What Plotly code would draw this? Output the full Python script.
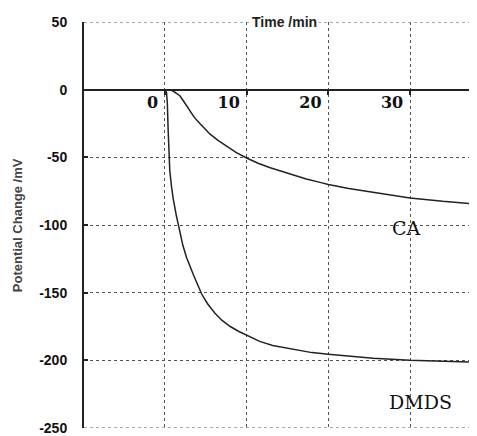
import plotly.graph_objects as go

# Time (min) and potential change (mV)
ca_t = [-10, 0, 0.6, 1.0, 1.4, 1.83, 2.4, 3.06, 3.6, 4.28, 5.5, 6.5, 7.5, 8.7, 10, 11.4, 12.9, 14.3, 15.7, 17.3, 19, 20, 22.5, 25, 27.5, 30, 34, 38.2]
ca_v = [0, 0, 0, -1, -2.5, -4.5, -9.5, -15.6, -20.5, -25, -32.7, -37.5, -41.6, -46.3, -50.5, -54.4, -57.7, -60.5, -63, -66, -68.5, -70, -73, -75.5, -78, -80, -82.5, -84.5]

dmds_t = [-10, 0, 0.2, 0.3, 0.4, 0.5, 0.6, 0.8, 1.0, 1.4, 1.8, 2.2, 2.65, 3.0, 3.5, 4.0, 4.5, 5.2, 6.1, 7.0, 8, 9, 10, 11.6, 13.2, 15, 16.5, 18, 20, 22.5, 25.5, 30, 34, 38.2]
dmds_v = [0, 0, -2, -10, -30, -48, -60, -71, -80, -93, -104, -115, -124, -130, -137, -144, -151, -158, -165, -170.5, -175, -178.5, -181.5, -186, -189, -191.2, -193, -194.3, -195.5, -197, -198.5, -200, -200.8, -201.5]

x_ticks = [0, 10, 20, 30]
y_ticks = [50, 0, -50, -100, -150, -200, -250]
y_tick_text = ["50", "0", "-50", "-100", "-150", "-200", "-250"]

x_range = [-9.9, 38.2]
y_range = [-250, 50]

fig = go.Figure()
line_style = dict(color="#222222", width=1.5)
fig.add_trace(go.Scatter(x=ca_t, y=ca_v, mode="lines", line=line_style, name="CA"))
fig.add_trace(go.Scatter(x=dmds_t, y=dmds_v, mode="lines", line=line_style, name="DMDS"))

# frame lines at top and bottom of the value range (dotted like the grid)
for yv in (y_range[1], y_range[0]):
    fig.add_shape(type="line", xref="paper", yref="y", x0=0, x1=1, y0=yv, y1=yv,
                  line=dict(color="#555", width=1, dash="dot"), layer="below")

fig.add_annotation(x=29.6, y=-102, text="CA", showarrow=False,
                   font=dict(family="DejaVu Serif", size=19, color="#111"))
fig.add_annotation(x=31.3, y=-231, text="DMDS", showarrow=False,
                   font=dict(family="DejaVu Serif", size=19, color="#111"))

fig.add_annotation(xref="paper", yref="paper", x=-0.17, y=0.5, xanchor="center",
                   yanchor="middle", text="Potential Change /mV",
                   textangle=-90, showarrow=False,
                   font=dict(family="Liberation Sans", size=13, color="#444", weight="bold"))
fig.add_annotation(xref="paper", yref="paper", x=0.509, y=1.0, text="Time /min",
                   showarrow=False, bgcolor="white", yanchor="middle",
                   font=dict(family="Liberation Sans", size=14, color="#222", weight="bold"))

pos0 = (0 - y_range[0]) / (y_range[1] - y_range[0])

fig.update_layout(
    width=469, height=428,
    margin=dict(l=76, r=0, t=14, b=8),
    paper_bgcolor="white", plot_bgcolor="white",
    showlegend=False,
    xaxis=dict(range=x_range, tickvals=x_ticks, ticktext=[str(v) for v in x_ticks],
               anchor="free", position=pos0,
               showline=True, linecolor="#222", linewidth=2,
               ticks="outside", ticklen=4, tickwidth=1.5, tickcolor="#222",
               ticklabelposition="outside left", ticklabelshift=-5, ticklabelstandoff=-2,
               tickfont=dict(family="DejaVu Serif", size=16, color="#111", weight="bold"),
               showgrid=True, gridcolor="#555", gridwidth=1, griddash="dot",
               zeroline=False),
    yaxis=dict(range=y_range, tickvals=y_ticks, ticktext=y_tick_text,
               showline=True, linecolor="#222", linewidth=2,
               ticks="inside", ticklen=4, tickwidth=2, tickcolor="#222",
               ticklabelstandoff=12,
               tickfont=dict(family="Liberation Sans", size=14, color="#111", weight="bold"),
               showgrid=True, gridcolor="#555", gridwidth=1, griddash="dot",
               zeroline=False),
)

fig.write_html("out.html")
